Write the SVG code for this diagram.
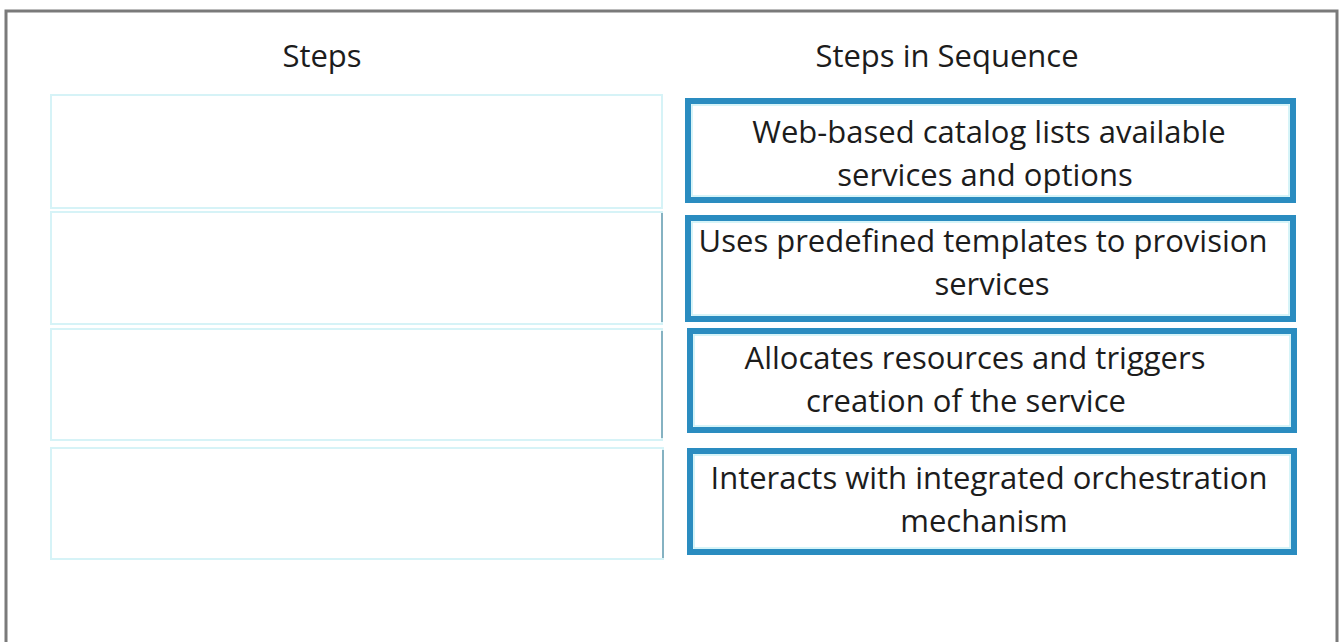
<svg xmlns="http://www.w3.org/2000/svg" width="1343" height="642" viewBox="0 0 1343 642">
<style>
.hdr{font-family:"Open Sans",Lato,sans-serif;font-size:31px;fill:#1c1c1c;text-anchor:middle}
.t{font-family:"Open Sans",Lato,sans-serif;font-size:31px;fill:#1c1c1c;text-anchor:middle}
.slot{fill:#fff;stroke:#d6f3f7;stroke-width:2}
.edge{stroke:#6a9cb0;stroke-width:1.5}
.seq{fill:#fff;stroke:#2a8cc0;stroke-width:6}
.inner{fill:none;stroke:#c9f1f6;stroke-width:1.5}
</style>
<rect x="0" y="0" width="1343" height="642" fill="#fff"/>
<path d="M6 642 V11 H1337 V642" fill="none" stroke="#7a7a7a" stroke-width="3"/>
<text class="hdr" x="322" y="67">Steps</text>
<text class="hdr" x="947" y="67">Steps in Sequence</text>
<g id="slot1"><rect class="slot" x="51" y="95" width="611" height="113"/></g>
<g id="slot2"><rect class="slot" x="51" y="212" width="611" height="112"/><line class="edge" x1="662" y1="213" x2="662" y2="322"/></g>
<g id="slot3"><rect class="slot" x="51" y="329" width="611" height="111"/><line class="edge" x1="662" y1="331" x2="662" y2="438"/></g>
<g id="slot4"><rect class="slot" x="51" y="448" width="612" height="111"/><line class="edge" x1="663" y1="450" x2="663" y2="558"/></g>
<g id="step1"><rect class="seq" x="688" y="101" width="605" height="99"/><rect class="inner" x="692" y="105" width="597" height="91"/>
<text class="t" x="989" y="143">Web-based catalog lists available</text><text class="t" x="985" y="186">services and options</text></g>
<g id="step2"><rect class="seq" x="688" y="218" width="605" height="101"/><rect class="inner" x="692" y="222" width="597" height="93"/>
<text class="t" x="983" y="252">Uses predefined templates to provision</text><text class="t" x="992" y="295">services</text></g>
<g id="step3"><rect class="seq" x="690" y="331" width="604" height="99"/><rect class="inner" x="694" y="335" width="596" height="91"/>
<text class="t" x="975" y="369">Allocates resources and triggers</text><text class="t" x="966" y="412">creation of the service</text></g>
<g id="step4"><rect class="seq" x="690" y="451" width="604" height="101"/><rect class="inner" x="694" y="455" width="596" height="93"/>
<text class="t" x="989" y="489">Interacts with integrated orchestration</text><text class="t" x="984" y="532">mechanism</text></g>
<g id="connectors"></g>
</svg>
